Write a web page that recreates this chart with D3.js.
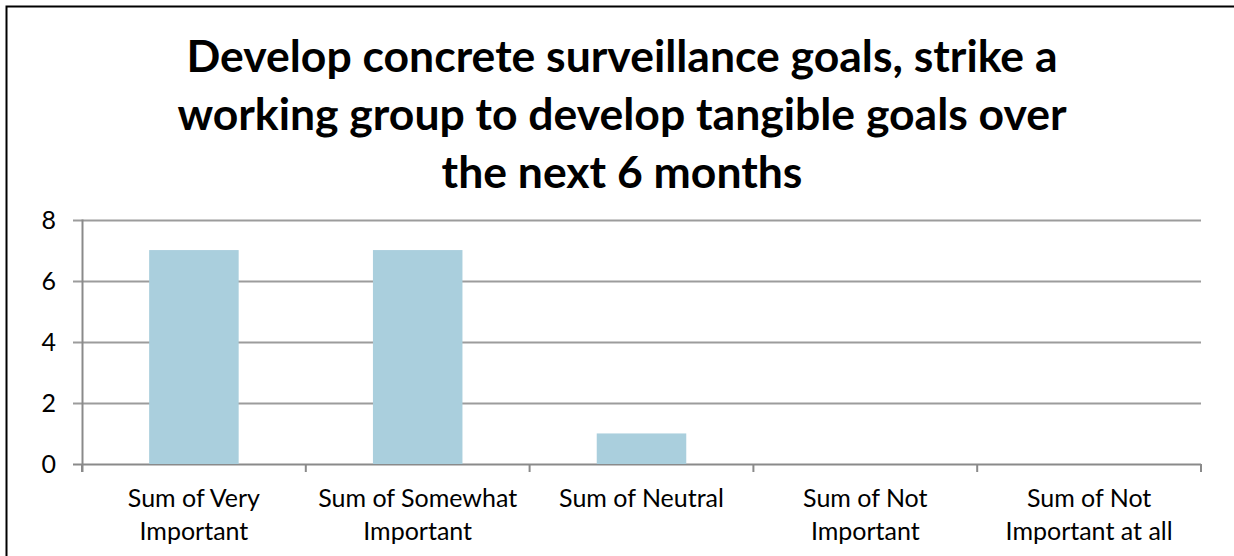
<!DOCTYPE html>
<html>
<head>
<meta charset="utf-8">
<script src="https://cdn.jsdelivr.net/npm/d3@7"></script>
<style>
  html, body { margin: 0; padding: 0; background: #fff; }
  svg { display: block; }
</style>
</head>
<body>
<svg id="chart" width="1234" height="556"></svg>
<script>
const titleLines = [
  "Develop concrete surveillance goals, strike a",
  "working group to develop tangible goals over",
  "the next 6 months"
];
const categories = [
  "Sum of Very Important",
  "Sum of Somewhat Important",
  "Sum of Neutral",
  "Sum of Not Important",
  "Sum of Not Important at all"
];
const values = [7, 7, 1, 0, 0];
const yTicks = [0, 2, 4, 6, 8];

const FONT = "Lato, 'Open Sans', 'Noto Sans', sans-serif";
const svg = d3.select("#chart");

svg.append("rect").attr("x", 0).attr("y", 0).attr("width", 1234).attr("height", 556).attr("fill", "#fff");
// outer chart border (left + top visible)
svg.append("rect")
  .attr("x", 6.5).attr("y", 6.5).attr("width", 1300).attr("height", 700)
  .attr("fill", "none").attr("stroke", "#000").attr("stroke-width", 2);

const plot = { left: 82, right: 1201, top: 219.5, bottom: 464 };

const x = d3.scaleBand().domain(categories)
  .range([plot.left, plot.right]).paddingInner(0.6).paddingOuter(0.3);
const y = d3.scaleLinear().domain([0, 8]).range([plot.bottom, plot.top]);

// title
const title = svg.append("text")
  .attr("text-anchor", "middle")
  .attr("font-family", FONT).attr("font-weight", "bold")
  .attr("font-size", 44.5).attr("fill", "#000");
titleLines.forEach((t, i) => {
  title.append("tspan").attr("x", 622).attr("y", 72 + i * 58).text(t);
});

// gridlines
const grid = svg.append("g");
grid.selectAll("line").data(yTicks).join("line")
  .attr("x1", plot.left - 9).attr("x2", plot.right)
  .attr("y1", d => Math.round(y(d)) + 0.5).attr("y2", d => Math.round(y(d)) + 0.5)
  .attr("stroke", d => d === 0 ? "#8a8a8a" : "#9c9c9c").attr("stroke-width", 2);

// bars
svg.append("g").selectAll("rect").data(categories).join("rect")
  .attr("x", d => x(d))
  .attr("width", x.bandwidth())
  .attr("y", (d, i) => y(values[i]))
  .attr("height", (d, i) => y(0) - y(values[i]))
  .attr("fill", "#aacfdd");

// y axis line
svg.append("line")
  .attr("x1", plot.left + 0.5).attr("x2", plot.left + 0.5)
  .attr("y1", plot.top).attr("y2", plot.bottom + 8)
  .attr("stroke", "#8a8a8a").attr("stroke-width", 2);

// x axis ticks at band boundaries
const step = x.step();
const boundaries = d3.range(categories.length + 1).map(i => plot.left + i * step);
svg.append("g").selectAll("line").data(boundaries).join("line")
  .attr("x1", d => d).attr("x2", d => d)
  .attr("y1", plot.bottom).attr("y2", plot.bottom + 8)
  .attr("stroke", "#8a8a8a").attr("stroke-width", 2);

// y tick labels
svg.append("g").selectAll("text").data(yTicks).join("text")
  .attr("x", 56).attr("y", d => y(d)).attr("dy", "0.36em")
  .attr("text-anchor", "end")
  .attr("font-family", FONT).attr("font-size", 25).attr("fill", "#000")
  .text(d => d);

// x category labels with wrapping
const labelG = svg.append("g");
const maxW = step * 0.93;
categories.forEach(c => {
  const t = labelG.append("text")
    .attr("text-anchor", "middle")
    .attr("font-family", FONT).attr("font-size", 25).attr("fill", "#000");
  const cx = x(c) + x.bandwidth() / 2;
  const words = c.split(" ");
  let lines = [], cur = [];
  const probe = t.append("tspan");
  words.forEach(w => {
    const test = cur.concat([w]).join(" ");
    probe.text(test);
    if (probe.node().getComputedTextLength() > maxW && cur.length) {
      lines.push(cur.join(" "));
      cur = [w];
    } else cur.push(w);
  });
  lines.push(cur.join(" "));
  probe.remove();
  lines.forEach((l, i) => {
    t.append("tspan").attr("x", cx).attr("y", 507 + i * 33).text(l);
  });
});
</script>
</body>
</html>
